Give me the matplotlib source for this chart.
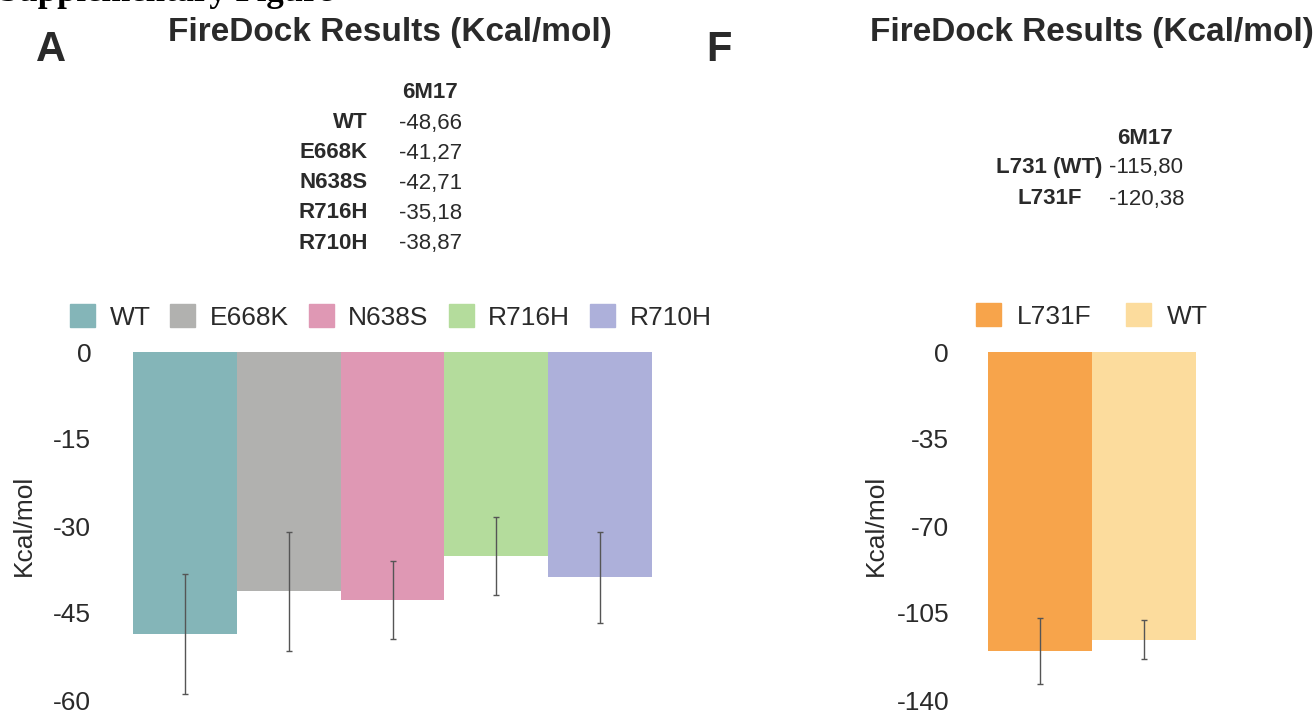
import matplotlib
matplotlib.use("Agg")
import matplotlib.pyplot as plt
from matplotlib.patches import Patch

plt.rcParams['font.family'] = ['Liberation Sans', 'DejaVu Sans']
plt.rcParams['axes.unicode_minus'] = False

# panel A data
mutants_a = ['WT', 'E668K', 'N638S', 'R716H', 'R710H']
energy_a = [-48.66, -41.27, -42.71, -35.18, -38.87]
err_a = [10.3, 10.2, 6.7, 6.7, 7.9]
table_a = ['-48,66', '-41,27', '-42,71', '-35,18', '-38,87']
yticks_a = [0, -15, -30, -45, -60]
colors_a = ['#84b5b8', '#b1b1af', '#df98b4', '#b4dc9c', '#adb0da']

# panel F data
mutants_f = ['L731F', 'WT']
energy_f = [-120.38, -115.80]
err_f = [13.3, 7.8]
table_labels_f = ['L731 (WT)', 'L731F']
table_f = ['-115,80', '-120,38']
yticks_f = [0, -35, -70, -105, -140]
colors_f = ['#f7a44b', '#fcdc9d']

W, H = 1313, 713
TXT = '#2a2a2a'


def fx(px):
    return px / W


def fy(py):
    return 1 - py / H


def bar_panel(fig, rect, values, errs, colors, yticks, pad):
    ax = fig.add_axes(rect)
    x = range(len(values))
    ax.bar(x, values, width=1.0, color=colors, linewidth=0)
    ax.errorbar(x, values, yerr=errs, fmt='none', ecolor='#555555',
                elinewidth=1.0, capsize=2, capthick=1.0)
    ax.set_xlim(-0.5, len(values) - 0.5)
    ax.set_ylim(yticks[-1], 0)
    ax.set_yticks(yticks)
    ax.set_yticklabels([str(t) for t in yticks])
    ax.set_xticks([])
    ax.tick_params(axis='y', length=0, pad=pad, labelsize=19, labelcolor=TXT)
    for s in ax.spines.values():
        s.set_visible(False)
    return ax


fig = plt.figure(figsize=(W / 100, H / 100), dpi=100)

# heading cut off at the top edge, as in the source page
fig.text(fx(-1), fy(1), 'Supplementary Figure', fontsize=25, fontweight='bold',
         family='Liberation Serif', color='black', va='baseline', ha='left')

ax_a = bar_panel(fig, [fx(133), 13 / H, 519 / W, 348 / H], energy_a,
                 err_a, colors_a, yticks_a, 30)
ax_f = bar_panel(fig, [fx(988), 13 / H, 208 / W, 348 / H], energy_f,
                 err_f, colors_f, yticks_f, 28)

# legends
h_a = [Patch(color=c, label=n) for n, c in zip(mutants_a, colors_a)]
fig.legend(handles=h_a, loc='center left', bbox_to_anchor=(fx(70), fy(317)),
           ncol=5, frameon=False, fontsize=19, handlelength=0.95,
           handleheight=0.95, handletextpad=0.55, columnspacing=0.75,
           borderpad=0, borderaxespad=0, labelcolor=TXT)
h_f = [Patch(color=c, label=n) for n, c in zip(mutants_f, colors_f)]
fig.legend(handles=h_f, loc='center left', bbox_to_anchor=(fx(976), fy(316)),
           ncol=2, frameon=False, fontsize=19, handlelength=0.95,
           handleheight=0.95, handletextpad=0.6, columnspacing=1.3,
           borderpad=0, borderaxespad=0, labelcolor=TXT)

# axis labels
for xp in (24, 876):
    fig.text(fx(xp), fy(525), 'Kcal/mol', rotation=90, fontsize=19,
             color=TXT, ha='center', va='center')

# titles and panel letters
fig.text(fx(390), fy(33), 'FireDock Results (Kcal/mol)', fontsize=24,
         fontweight='bold', color=TXT, ha='center', va='center')
fig.text(fx(1092), fy(33), 'FireDock Results (Kcal/mol)', fontsize=24,
         fontweight='bold', color=TXT, ha='center', va='center')
fig.text(fx(51), fy(50), 'A', fontsize=30, fontweight='bold', color=TXT,
         ha='center', va='center')
fig.text(fx(719), fy(50), 'F', fontsize=30, fontweight='bold', color=TXT,
         ha='center', va='center')

# value tables
fig.text(fx(430), fy(93), '6M17', fontsize=16, fontweight='bold', color=TXT,
         ha='center', va='center')
for i, (n, v) in enumerate(zip(mutants_a, table_a)):
    y = fy(123 + 30 * i)
    fig.text(fx(368), y, n, fontsize=16, fontweight='bold', color=TXT,
             ha='right', va='center')
    fig.text(fx(399), y, v, fontsize=16, color=TXT, ha='left', va='center')

fig.text(fx(1145), fy(138), '6M17', fontsize=16, fontweight='bold', color=TXT,
         ha='center', va='center')
label_right_f = [1102, 1082]
for i, (n, v) in enumerate(zip(table_labels_f, table_f)):
    y = fy(168 + 31 * i)
    fig.text(fx(label_right_f[i]), y, n, fontsize=16, fontweight='bold',
             color=TXT, ha='right', va='center')
    fig.text(fx(1109), y, v, fontsize=16, color=TXT, ha='left', va='center')

fig.savefig('out.png', dpi=100, facecolor='white')
